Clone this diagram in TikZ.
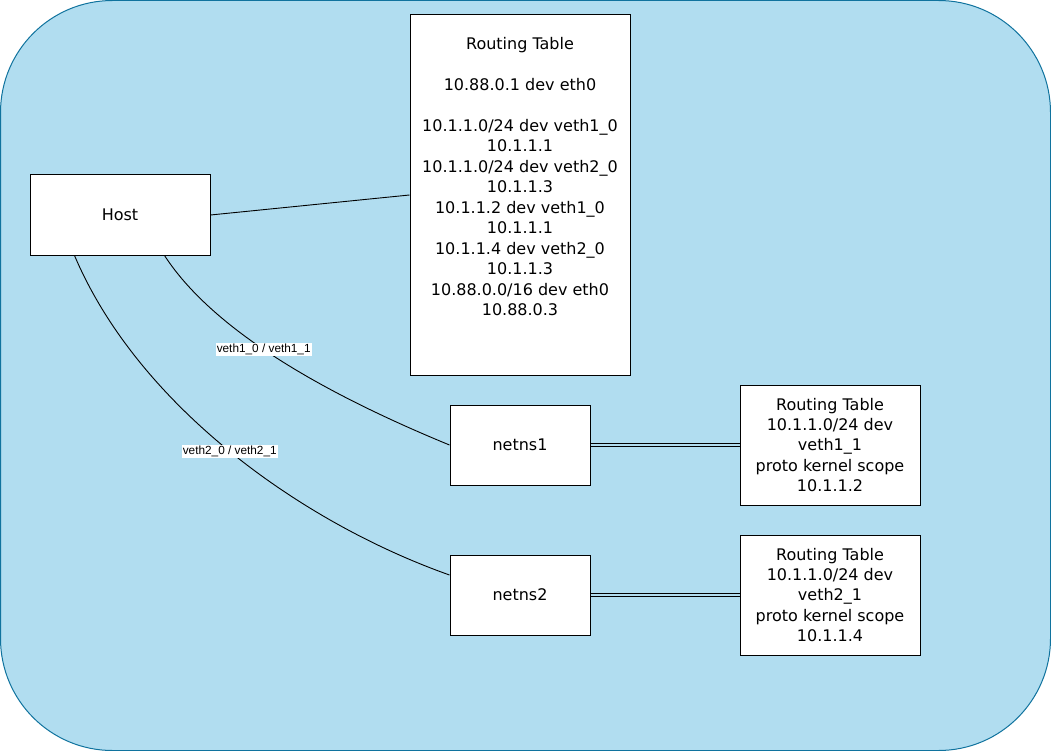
\documentclass[tikz,border=0pt]{standalone}
\usepackage{fontspec}
\setmainfont{DejaVu Sans}
\newfontfamily\edgefont{Liberation Sans}
\usetikzlibrary{calc}
\definecolor{panelfill}{HTML}{B1DDF0}
\definecolor{panelstroke}{HTML}{10739E}

\begin{document}
\begin{tikzpicture}[x=1pt,y=-1pt,
  box/.style={draw=black, fill=white, line width=1pt, inner sep=0pt,
    font=\fontsize{16}{20.3}\selectfont, align=center},
  blocktext/.style={inner sep=0pt, align=center,
    font=\fontsize{16}{20.5}\selectfont},
  wire/.style={draw=black, line width=0.9pt},
  link/.style={draw=black, line width=0.9pt, double=panelfill, double distance=2.6pt},
  vethlabel/.style={fill=white, inner sep=1pt, text=black,
    font=\edgefont\fontsize{11.8}{12}\selectfont}
]
\useasboundingbox (0,0) rectangle (1051,751);

% background panel
\draw[fill=panelfill, draw=panelstroke, line width=1pt, rounded corners=112pt]
  (0.5,0.5) rectangle (1050.5,750.5);

% boxes
\node[box, minimum width=180pt, minimum height=80pt] (host) at (120,215) {\raisebox{-2pt}{Host}};
\node[box, minimum width=220pt, minimum height=360pt] (rtmain) at (520,195) {};
\node[blocktext, anchor=north] (rtmaintext) at (520,37) {Routing Table\\[20.5pt]
10.88.0.1 dev eth0\\[20.5pt]
10.1.1.0/24 dev veth1\_0\\
10.1.1.1\\
10.1.1.0/24 dev veth2\_0\\
10.1.1.3\\
10.1.1.2 dev veth1\_0\\
10.1.1.1\\
10.1.1.4 dev veth2\_0\\
10.1.1.3\\
10.88.0.0/16 dev eth0\\
10.88.0.3};

\node[box, minimum width=140pt, minimum height=80pt] (ns1) at (520,445) {netns1};
\node[box, minimum width=140pt, minimum height=80pt] (ns2) at (520,595) {netns2};

\node[box, minimum width=180pt, minimum height=120pt] (rt1) at (830,445) {Routing Table\\
10.1.1.0/24 dev\\
veth1\_1\\
proto kernel scope\\
10.1.1.2};
\node[box, minimum width=180pt, minimum height=120pt] (rt2) at (830,595) {Routing Table\\
10.1.1.0/24 dev\\
veth2\_1\\
proto kernel scope\\
10.1.1.4};

% connectors
\draw[wire] (host.east) -- (rtmain.west);
\draw[wire] ($(host.south west)+(135,0)$)
  .. controls (218,338) and (345,402) .. (ns1.west)
  node[vethlabel, pos=0.42] (lab1) {veth1\_0 / veth1\_1};
\draw[wire] ($(host.south west)+(45,0)$)
  .. controls (138,405) and (300,522) .. ($(ns2.west)+(0,-20)$)
  node[vethlabel, pos=0.5] (lab2) {veth2\_0 / veth2\_1};

\draw[link] (ns1.east) -- (rt1.west);
\draw[link] (ns2.east) -- (rt2.west);
\end{tikzpicture}
\end{document}
